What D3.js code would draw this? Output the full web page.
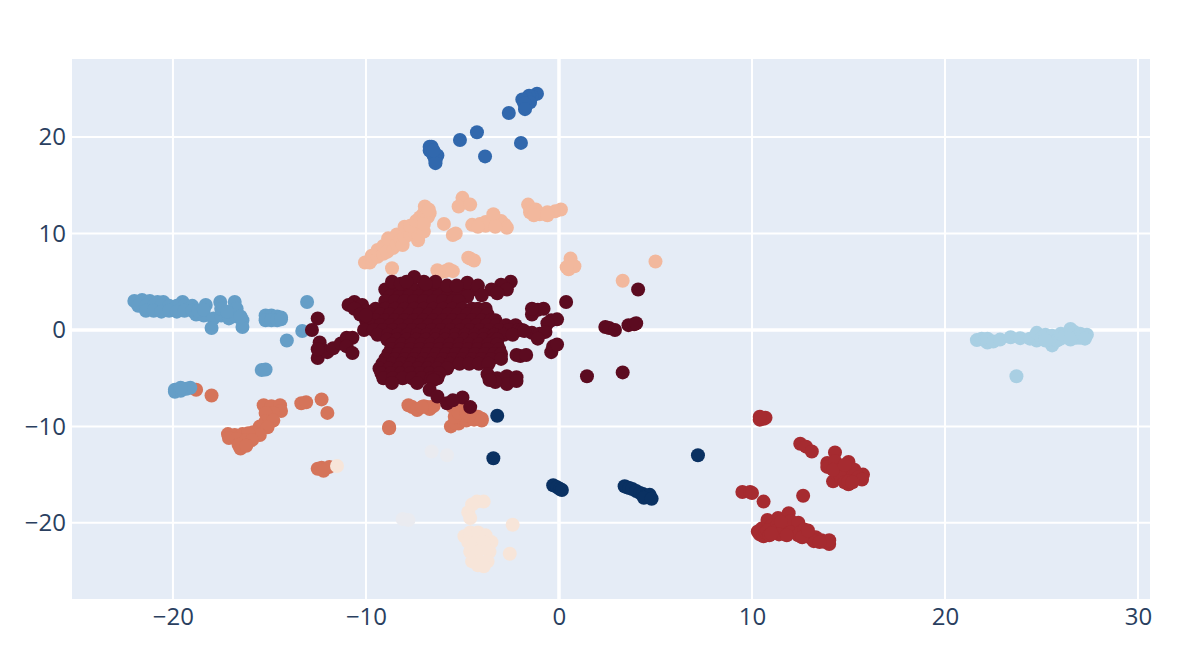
<!DOCTYPE html>
<html><head><meta charset="utf-8">
<script src="https://cdn.jsdelivr.net/npm/d3@7"></script>
<style>html,body{margin:0;padding:0;background:#fff}svg{display:block}</style>
</head><body><svg id="c" width="1200" height="669"></svg>
<script>
const xTicks=[-20,-10,0,10,20,30];
const yTicks=[-20,-10,0,10,20];
const faintDots=[[-8.1,-19.6],[-7.8,-19.7],[-6.6,-12.6],[-5.8,-13]];
const paleDots=[[-4.25,-17.8],[-3.9,-17.8],[-4.5,-18.1],[-4.7,-18.9],[-4.6,-19.5],[-2.4,-20.2],[-4.9,-21.4],[-4.6,-21],[-4.2,-21],[-3.8,-21.3],[-3.5,-22],[-4.7,-22],[-4.3,-22],[-3.9,-22],[-4.6,-23],[-4.2,-23],[-3.6,-23],[-4.5,-24],[-4.1,-24],[-3.7,-24],[-4.2,-24.4],[-3.9,-24.5],[-2.55,-23.2],[-11.5,-14.1]];
const orangeDots=[[-18.8,-6.2],[-18,-6.8],[-13.35,-7.6],[-13.1,-7.5],[-12.3,-7.2],[-12,-8.6],[-12.3,-14.3],[-12.5,-14.4],[-11.9,-14.2],[-12.2,-14.6],[-15.3,-7.8],[-14.9,-7.9],[-14.45,-7.8],[-14.4,-8.4],[-14.8,-8.6],[-15.2,-8.6],[-15.2,-9.5],[-14.8,-9.4],[-15.5,-10],[-15.1,-10.1],[-15.85,-10.6],[-15.5,-10.9],[-17.15,-10.8],[-16.8,-10.9],[-16.4,-10.8],[-16.1,-10.7],[-17.1,-11.2],[-16.7,-11.3],[-16.2,-11.4],[-15.9,-11.4],[-16.6,-11.9],[-16.5,-12.3],[-16.2,-12],[-8.8,-10.05],[-8.8,-10.2],[-7.8,-7.8],[-7.6,-8],[-7.35,-8.3],[-7,-7.9],[-6.8,-8],[-6.7,-8.2],[-6.5,-7.9],[-7.1,-8],[-5.5,-8],[-5.1,-8.1],[-5.6,-10],[-5.2,-9.7],[-5.4,-9.6],[-5.1,-9.4],[-5,-9.2],[-4.8,-9.4],[-4.6,-9],[-4.4,-9.3],[-4,-9.2],[-5.4,-9],[-5.2,-8.6],[-4.8,-8.6],[-4.2,-9],[-4,-9.4]];
const peachDots=[[-10.05,7],[-9.8,7],[-9.7,7.3],[-9.7,7.7],[-9.4,7.6],[-9.4,8.3],[-9.1,7.9],[-9.1,8.7],[-8.9,8.1],[-8.6,8.5],[-8.6,9.1],[-8.85,9.5],[-8.4,8.9],[-8.4,9.9],[-8.2,9.3],[-8.1,8.8],[-8,9.6],[-8,10.7],[-7.7,9.9],[-7.6,10.3],[-7.3,9.3],[-7.3,9.8],[-7.3,10.7],[-7.7,10.8],[-7,10.2],[-7.4,11.3],[-7.2,11.7],[-7,11.6],[-7,12.1],[-6.7,12.1],[-6.8,11.7],[-6.95,12.8],[-6.75,12.5],[-7,11],[-8.65,6.4],[-5.96,11],[-5.5,9.85],[-5.35,10],[-5,13.7],[-5.2,12.8],[-4.6,13],[-4.5,10.9],[-4.1,11],[-3.8,11.2],[-3.4,11.6],[-3.3,11],[-3,11.3],[-2.8,10.9],[-2.7,10.6],[-3.4,12],[-3.8,10.8],[-3.3,10.7],[-4.2,10.7],[-1.6,13],[-1.5,12.2],[-1.2,12.5],[-1,12],[-0.6,12.2],[-0.2,12.3],[0.1,12.5],[-0.6,11.9],[-1.3,11.9],[0.5,6.3],[0.6,7],[0.8,6.6],[0.6,7.4],[0.4,6.5],[3.3,5.1],[5,7.1],[-6.3,6.2],[-6.1,6],[-5.9,6.1],[-5.7,6.3],[-5.5,6.1],[-4.7,7.5],[-4.6,7.4],[-4.4,7.2]];
const redDots=[[10.4,-9.3],[10.7,-9.1],[10.6,-9.2],[10.4,-9],[12.5,-11.8],[12.8,-12.1],[13.1,-12.6],[14.3,-12.7],[13.9,-13.8],[13.9,-14.2],[14.3,-13.6],[15,-13.7],[15.75,-15],[14.2,-15.7],[15,-16],[14.5,-14.5],[14.7,-14.7],[15,-14.3],[15,-15],[15.2,-15.2],[15.3,-14.5],[15.4,-14.9],[14.4,-15],[14.6,-15.3],[14.8,-15.8],[15.5,-15.3],[14.2,-14.5],[15.7,-15.5],[14.8,-14],[15,-15.7],[15.2,-15.8],[9.5,-16.8],[9.9,-16.8],[10,-16.9],[10.6,-17.8],[12.65,-17.2],[10.3,-20.9],[10.5,-20.6],[10.4,-21.2],[10.6,-21.4],[10.7,-21],[10.8,-19.7],[11.35,-19.5],[11.9,-19],[11,-20.3],[10.8,-20.8],[11.3,-20.3],[11.3,-20.8],[11.6,-20.2],[11.6,-20.8],[11.8,-20.5],[12.2,-20.4],[12.2,-20.9],[12,-19.8],[11.5,-19.9],[12.4,-20],[10.9,-21.3],[11.4,-21.2],[12,-21],[12.4,-21.3],[12.5,-21],[12.7,-20.7],[12.8,-21.2],[13,-21.5],[13.3,-21.5],[13.4,-21.8],[13.6,-21.8],[13.8,-22],[14,-22.2],[13.2,-21.9],[12.6,-21.5],[14,-21.8],[11,-21.1],[11.8,-21.3],[13.5,-22],[12.9,-20.8]];
const maroonRows=[
[4.2,[-9,-8.5,-8,-7.5,-7,-6.5,-6,-5.5,-5,-4.5]],
[3.5,[-8.75,-8.25,-7.75,-7.25,-6.75,-6.25,-5.75,-5.25,-4.75]],
[3,[-9,-8.5,-8,-7.5,-7,-6.5,-6,-5.5,-5.2]],
[2.2,[-9.5,-9,-8.5,-8,-7.5,-7,-6.5,-6,-5.5,-5,-4.5,-4.2,-3.8]],
[1.6,[-9.75,-9.25,-8.75,-8.25,-7.75,-7.25,-6.75,-6.25,-5.75,-5.25,-4.75,-4.25,-3.7]],
[1,[-10,-9.5,-9,-8.5,-8,-7.5,-7,-6.5,-6,-5.5,-5,-4.5,-4,-3.5,-3.3]],
[0.5,[-9.75,-9.25,-8.75,-8.25,-7.75,-7.25,-6.75,-6.25,-5.75,-5.25,-4.75,-4.25,-3.75,-3.25,-2.75,-2.25]],
[0,[-10.1,-9.6,-9.1,-8.6,-8.1,-7.6,-7.1,-6.6,-6.1,-5.6,-5.1,-4.6,-4.1,-3.6,-3.1,-2.6,-2.1,-1.9]],
[-0.5,[-9.4,-8.85,-8.35,-7.85,-7.35,-6.85,-6.35,-5.85,-5.35,-4.85,-4.35,-3.85,-3.35,-2.85,-2.4]],
[-1,[-8.9,-8.4,-7.9,-7.4,-6.9,-6.4,-5.9,-5.4,-4.9,-4.4,-3.9,-3.4,-3.2]],
[-1.5,[-8.65,-8.15,-7.65,-7.15,-6.65,-6.15,-5.65,-5.15,-4.65,-4.15,-3.65,-3.2]],
[-2,[-8.7,-8.2,-7.7,-7.2,-6.7,-6.2,-5.7,-5.2,-4.7,-4.2,-3.7,-3.1]],
[-2.5,[-8.85,-8.35,-7.85,-7.35,-6.85,-6.35,-5.85,-5.35,-4.85,-4.35,-3.85,-3.35,-3]],
[-3,[-9,-8.5,-8,-7.5,-7,-6.5,-6,-5.5,-5,-4.5,-4,-3.5,-3]],
[-3.5,[-9.15,-8.65,-8.15,-7.65,-7.15,-6.65,-6.15,-5.65,-5.15,-4.65,-4.15,-3.65]],
[-4,[-9.3,-8.8,-8.3,-7.8,-7.3,-6.8,-6.3,-5.8]],
[-4.5,[-9.2,-8.7,-8.2,-7.7,-7.2,-6.7,-6.2]],
[-5,[-9.1,-8.6,-8.1,-7.6,-7.1,-6.6,-6.3]]];
const maroonDots=[[-8.65,5],[-7.5,5.5],[-6.4,5],[-4.75,4.9],[-4.2,4.6],[-8.2,4.8],[-7.9,5],[-7,5],[-6.9,4.8],[-5.8,4.6],[-5.3,4.6],[-2.5,5],[-3,4.7],[-3.5,4.2],[-4,3.6],[-2.7,4.2],[-3.2,3.8],[-10.6,2.9],[-10.9,2.6],[-10.2,2.6],[-10,2],[-10.6,2.2],[-10.3,1.6],[-10,1.5],[-3.7,-4.6],[-3.2,-5],[-2.7,-4.8],[-2.2,-4.9],[-2.7,-5.6],[-3.3,-5.4],[-2.2,-5.3],[-3.6,-5.2],[-8.65,-5.5],[-7.35,-5.5],[-6.5,-5.2],[-6.7,-6.2],[-6.3,-6.9],[-5.8,-7.6],[-5,-7],[-5.5,-7.3],[-4.6,-8],[-2.2,-2.6],[-2,-2.7],[-1.7,-2.6],[-1.4,1.6],[-1.1,2.1],[-0.8,2.2],[-1.4,2.2],[-0.4,1],[-0.1,1.1],[-0.6,0.7],[-1.4,-0.3],[-1,-0.4],[-0.7,-0.2],[-1.1,-0.9],[-1.8,-0.1],[-0.3,-1.7],[-0.4,-2.3],[-0.1,-1.5],[0.37,2.9],[1.45,-4.8],[-12.5,1.2],[-12.8,0],[-12.4,-1.3],[-12.5,-2.9],[-12.2,-2.1],[-12,-2.3],[-11.7,-1.9],[-11.3,-1.4],[-11,-0.8],[-10.7,-0.8],[-11,-1.7],[-10.7,-2.4],[-12.5,-2],[2.4,0.3],[2.6,0.2],[2.9,0],[3.6,0.5],[3.9,0.6],[4,0.7],[4.1,4.2],[3.3,-4.4]];
const navyDots=[[-3.2,-8.9],[-3.4,-13.3],[7.2,-13],[-0.3,-16.1],[-0.1,-16.3],[0.05,-16.5],[0.15,-16.6],[3.4,-16.2],[3.5,-16.3],[3.65,-16.4],[3.8,-16.5],[4,-16.7],[4.2,-16.9],[4.35,-17],[4.5,-17.2],[4.65,-17.35],[4.7,-17.1],[4.4,-17.4],[4.8,-17.5]];
const royalDots=[[-1.14,24.5],[-1.4,24.2],[-1.55,24.3],[-1.66,24],[-1.9,23.9],[-1.5,23.6],[-1.8,23.5],[-1.76,22.9],[-2.6,22.5],[-4.25,20.5],[-5.13,19.7],[-1.97,19.4],[-3.83,18],[-6.7,19],[-6.6,19],[-6.7,18.6],[-6.6,18.5],[-6.5,18.1],[-6.3,18.1],[-6.4,17.6],[-6.4,17.3],[-6.5,18.6]];
const midBlueDots=[[-22,3],[-21.6,3.1],[-21.2,3],[-20.8,2.9],[-20.5,2.9],[-19.5,2.9],[-21.8,2.5],[-21.4,2.5],[-21,2.5],[-20.6,2.5],[-20.2,2.5],[-19.8,2.5],[-19.4,2.5],[-19,2.5],[-21.4,2],[-21,2],[-20.6,1.9],[-20.2,2],[-19.8,1.9],[-19.4,2],[-19,2],[-18.8,1.6],[-18.4,1.5],[-18.7,2],[-18.3,2.6],[-18.4,2.1],[-17.9,1.2],[-17.5,1.5],[-17.1,1.2],[-16.7,1.4],[-17.55,2.9],[-17.5,2.2],[-16.8,2.9],[-16.7,2.2],[-16.4,1],[-16.4,0.3],[-18,0.2],[-17.2,1.9],[-16.5,1.4],[-15.2,1.5],[-14.9,1.5],[-14.6,1.4],[-14.4,1.3],[-15.2,1],[-14.9,1],[-14.6,1],[-14.4,1.1],[-13.05,2.9],[-13.3,-0.1],[-14.1,-1.1],[-15.4,-4.15],[-15.2,-4.1],[-19.9,-6.4],[-19.9,-6.2],[-19.6,-6.3],[-19.3,-6.1],[-19.1,-6],[-19.6,-6]];
const skyDots=[[21.65,-1.05],[21.9,-0.9],[22.07,-1.1],[22.2,-1.3],[22.2,-0.9],[22.5,-1.2],[22.85,-1],[23.4,-0.75],[23.9,-0.85],[24.4,-0.9],[24.75,-1.1],[24.7,-0.7],[24.75,-0.3],[25,-0.9],[25.2,-0.5],[25.4,-1],[25.55,-1.6],[25.55,-0.6],[25.8,-1.1],[26,-0.9],[26,-0.4],[26.2,-0.6],[26.5,0.1],[26.7,-0.2],[26.8,-0.8],[27,-0.4],[27,-0.8],[27.35,-0.5],[27.25,-0.9],[26.5,-1],[25.2,-1.1],[23.7,-4.8]];
const layers=[[faintDots,"#eaebf0"],[peachDots,"#f2b89d"],[orangeDots,"#d5745a"],[paleDots,"#f7e5d9"],[midBlueDots,"#659ec7"],[skyDots,"#a9cfe3"],[redDots,"#a62b30"],[royalDots,"#3168ad"],[maroonRows.flatMap(([ry,xs])=>xs.map(v=>[v,ry])).concat(maroonDots),"#5c0b20"],[navyDots,"#0a3162"]];
const x=d3.scaleLinear().domain([-25.23,30.62]).range([72,1150]);
const y=d3.scaleLinear().domain([-27.9,28.1]).range([599,59]);
const svg=d3.select("#c");
svg.append("rect").attr("x",72).attr("y",59).attr("width",1078).attr("height",540).attr("fill","#e5ecf6");
svg.append("g").selectAll("line").data(xTicks).join("line").attr("x1",d=>x(d)).attr("x2",d=>x(d)).attr("y1",59).attr("y2",599).attr("stroke","#fff").attr("stroke-width",d=>d===0?3.5:2);
svg.append("g").selectAll("line").data(yTicks).join("line").attr("x1",72).attr("x2",1150).attr("y1",d=>y(d)).attr("y2",d=>y(d)).attr("stroke","#fff").attr("stroke-width",d=>d===0?3.5:2);
layers.forEach(([pts,col])=>{svg.append("g").selectAll("circle").data(pts).join("circle").attr("cx",d=>x(d[0])).attr("cy",d=>y(d[1])).attr("r",7).attr("fill",col);});
const fmt=d=>d<0?"\u2212"+Math.abs(d):String(d);
const ax=svg.append("g").attr("transform","translate(0,599)").call(d3.axisBottom(x).tickValues(xTicks).tickFormat(fmt).tickSize(0).tickPadding(9));
const ay=svg.append("g").attr("transform","translate(72,0)").call(d3.axisLeft(y).tickValues(yTicks).tickFormat(fmt).tickSize(0).tickPadding(6));
[ax,ay].forEach(a=>{a.select(".domain").remove();a.selectAll("text").attr("font-family","'Open Sans',sans-serif").attr("font-size",24).attr("fill","#2a3f5f");});
</script></body></html>
